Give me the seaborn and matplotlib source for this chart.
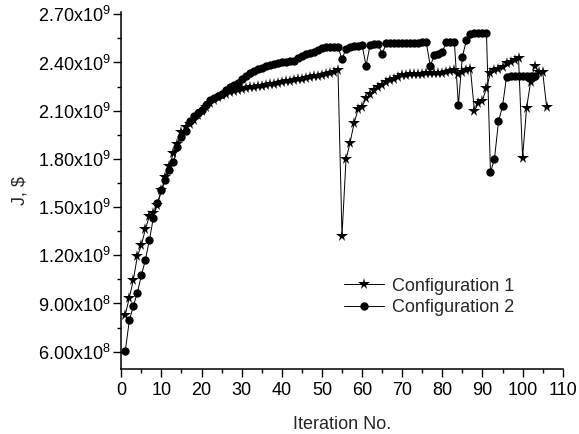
import math
import numpy as np
import pandas as pd
import matplotlib
matplotlib.use("Agg")
import matplotlib.pyplot as plt
from matplotlib.ticker import FuncFormatter, MultipleLocator
import seaborn as sns

config1 = [0.83, 0.936, 1.046, 1.194, 1.262, 1.364, 1.443, 1.461, 1.513, 1.604,
           1.685, 1.756, 1.838, 1.89, 1.965, 1.996, 2.015, 2.04, 2.07, 2.095,
           2.125, 2.15, 2.168, 2.183, 2.195, 2.205, 2.214, 2.222, 2.23, 2.236,
           2.241, 2.246, 2.25, 2.253, 2.256, 2.26, 2.264, 2.268, 2.273, 2.278,
           2.282, 2.286, 2.29, 2.294, 2.298, 2.303, 2.308, 2.313, 2.318, 2.324,
           2.33, 2.336, 2.342, 2.35, 1.322, 1.797, 1.90, 2.021, 2.108, 2.124,
           2.177, 2.204, 2.228, 2.249, 2.262, 2.28, 2.29, 2.3, 2.31, 2.32,
           2.325, 2.328, 2.329, 2.33, 2.331, 2.332, 2.333, 2.334, 2.335, 2.337,
           2.34, 2.345, 2.353, 2.328, 2.342, 2.355, 2.36, 2.10, 2.146, 2.163,
           2.242, 2.336, 2.35, 2.36, 2.373, 2.394, 2.405, 2.415, 2.426, 1.808,
           2.117, 2.278, 2.379, 2.342, 2.342, 2.123]

config2 = [0.605, 0.795, 0.883, 0.967, 1.075, 1.171, 1.295, 1.434, 1.525, 1.604,
           1.670, 1.731, 1.780, 1.872, 1.934, 1.973, 2.036, 2.067, 2.083, 2.104,
           2.135, 2.166, 2.177, 2.191, 2.204, 2.228, 2.245, 2.26, 2.274, 2.295,
           2.316, 2.336, 2.349, 2.359, 2.368, 2.375, 2.383, 2.39, 2.396, 2.401,
           2.404, 2.407, 2.411, 2.425, 2.44, 2.45, 2.458, 2.467, 2.475, 2.487,
           2.496, 2.498, 2.499, 2.499, 2.421, 2.485, 2.495, 2.500, 2.505, 2.509,
           2.38, 2.510, 2.513, 2.515, 2.452, 2.518, 2.52, 2.521, 2.522, 2.522,
           2.523, 2.523, 2.524, 2.524, 2.525, 2.525, 2.378, 2.444, 2.452, 2.465,
           2.527, 2.529, 2.530, 2.135, 2.436, 2.538, 2.578, 2.582, 2.584, 2.585,
           2.585, 1.717, 1.800, 2.033, 2.127, 2.309, 2.316, 2.316, 2.316, 2.317,
           2.317, 2.318, 2.318]

labels = ["Configuration 1", "Configuration 2"]
x_ticks = list(range(0, 111, 10))
y_ticks = [0.6e9, 0.9e9, 1.2e9, 1.5e9, 1.8e9, 2.1e9, 2.4e9, 2.7e9]

sns.set_style("ticks")
plt.rcParams["font.family"] = ["Liberation Sans", "DejaVu Sans"]
plt.rcParams["mathtext.fontset"] = "custom"
plt.rcParams["mathtext.rm"] = "Liberation Sans"
plt.rcParams["mathtext.it"] = "Liberation Sans:italic"
plt.rcParams["mathtext.default"] = "regular"

df1 = pd.DataFrame({"it": np.arange(1, len(config1) + 1), "J": np.array(config1) * 1e9})
df2 = pd.DataFrame({"it": np.arange(1, len(config2) + 1), "J": np.array(config2) * 1e9})

fig = plt.figure(figsize=(5.79, 4.34), dpi=100)
ax = fig.add_axes([121.3 / 579, 1 - 369.3 / 434, (562.7 - 121.3) / 579, (369.3 - 12.0) / 434])

sns.lineplot(data=df1, x="it", y="J", ax=ax, color="black", lw=0.7,
             marker="*", markersize=8.5, markeredgewidth=0, label=labels[0])
sns.lineplot(data=df2, x="it", y="J", ax=ax, color="black", lw=0.7,
             marker="o", markersize=6, markeredgewidth=0, label=labels[1])

ax.set_xlim(0, 110)
ax.set_ylim(0.4905e9, 2.714e9)
ax.set_xticks(x_ticks)
ax.xaxis.set_minor_locator(MultipleLocator(5))
ax.set_yticks(y_ticks)
ax.yaxis.set_minor_locator(MultipleLocator(0.15e9))


def fmt(v, p):
    if v == 0:
        return "0"
    e = int(math.floor(math.log10(abs(v)) + 1e-9))
    m = v / 10 ** e
    return f"{m:.2f}x10$^{{{e}}}$"


ax.yaxis.set_major_formatter(FuncFormatter(fmt))

for s in ["top", "right"]:
    ax.spines[s].set_visible(False)
for s in ["left", "bottom"]:
    ax.spines[s].set_linewidth(1.1)
    ax.spines[s].set_color("black")

ax.tick_params(axis="both", which="major", direction="out", length=5.5, width=1.0,
               labelsize=13, colors="black", pad=4)
ax.tick_params(axis="both", which="minor", direction="out", length=3, width=1.0, colors="black")
ax.tick_params(axis="y", which="major", pad=2)

ax.set_xlabel("Iteration No.", fontsize=13, labelpad=12)
ax.set_ylabel(r"J, \$", fontsize=13, labelpad=7)

leg = ax.legend(loc="center left", bbox_to_anchor=(0.5045, 0.203), frameon=False,
                fontsize=13, borderpad=0, borderaxespad=0, handlelength=2.2,
                handletextpad=0.45, labelspacing=0.25)

fig.savefig("out.png", dpi=100, facecolor="white")
